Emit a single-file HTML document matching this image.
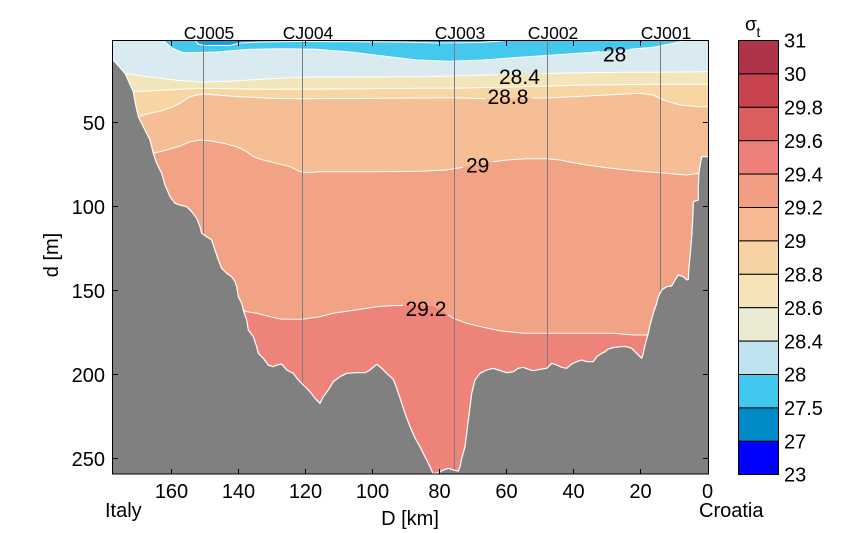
<!DOCTYPE html>
<html>
<head>
<meta charset="utf-8">
<style>
html,body{margin:0;padding:0;background:#fff;}
svg{display:block;}
text{font-family:"Liberation Sans",Arial,sans-serif;fill:#000;}
</style>
</head>
<body>
<svg width="860" height="533" viewBox="0 0 860 533" xmlns="http://www.w3.org/2000/svg">
<defs>
<clipPath id="pc"><rect x="112" y="40" width="596" height="434"/></clipPath>
</defs>
<g clip-path="url(#pc)">
<!-- base light blue -->
<rect x="112" y="40" width="596" height="434" fill="#D9EBF1"/>
<!-- cyan 27.5-28 -->
<polygon fill="#45C8EE" points="163.3,40 167,44 173.3,48.7 183.3,52.7 200,52.5 216.7,52 250,49.3 280,48.7 316.7,49.3 350,52 383.3,56 416.7,60 450,61.3 483.3,60 520,57.3 553.3,55 586.7,52.7 620,50 653.3,47.3 673.3,43.3 683.3,40.7 686,40"/>
<!-- darker strip -->
<polygon fill="#17A2DC" points="195,40 198,44 205,45.5 230,45.5 240,43 260,42 300,41.5 400,42 440,43 480,42.5 500,41 505,40"/>
<!-- pale yellow 28.4-28.6 -->
<polygon fill="#F3E5BA" points="112,70 125,73.3 150,77 175,80 200,82.3 233.3,81 266,79 300,77.3 360,77 420,76.7 453.3,76 486.7,75 520,74 553.3,73.3 586.7,72.7 620,72.3 653.3,72.3 708,71.7 708,474 112,474"/>
<!-- peach 28.6-28.8 -->
<polygon fill="#F7D6A4" points="112,92 133.3,91.7 166.7,90 200,88.3 266.7,89.3 340,89 420,88.3 453.3,88.3 520,86.7 586.7,85 653.3,84.3 708,84.3 708,474 112,474"/>
<!-- light orange 28.8-29 -->
<polygon fill="#F5BE95" points="112,118 138.3,116.7 150,113.3 161.7,110.7 171.7,107.3 180,103.3 188.3,97.3 196.7,95 203.3,94 216.7,95 240,96.7 270,98.3 300,98.7 420,98 453.3,97.7 486.7,98.7 520,98.3 553.3,97.7 586.7,96 620,94.3 640,93.3 653.3,95 663.3,100 680,105 700,106.7 708,106.7 708,474 112,474"/>
<!-- salmon 29-29.2 -->
<polygon fill="#F2A285" points="112,154 153.3,153.3 166.7,150 180,146 190,141.7 200,140 210,140.7 223.3,143.3 236.7,146.7 246.7,151.7 253.3,156.7 263.3,160 276.7,163.3 290,166.7 300,171.7 308.3,172.7 320,171.7 373.3,171.7 420,171.3 446.7,170 466.7,166.7 486.7,162.7 506.7,160 526.7,158.7 546.7,158.7 560,160 573.3,162.7 586.7,165 606.7,167.7 626.7,170 646.7,171.7 660,172.7 673.3,174 686.7,175 699.3,173.3 708,173 708,474 112,474"/>
<!-- pink-red >29.2 -->
<polygon fill="#EE837A" points="112,310 243.3,310 246.7,311.7 256.7,313.3 270,316.7 281.7,319.3 303.3,319.3 308.3,318.3 320,316.7 333.3,313.3 350,310.7 366.7,308.3 376.7,306.7 390,305.7 406.7,305.3 433.3,306 443.3,311.7 453.3,318.3 466.7,323.3 483.3,327.3 500,330.7 523.3,333.3 550,333.3 583.3,333.3 613.3,333.3 633.3,335 645,335 660,335 708,335 708,474 112,474"/>

<!-- contour lines -->
<g fill="none" stroke="#fff" stroke-width="1">
<polyline points="163.3,40 167,44 173.3,48.7 183.3,52.7 200,52.5 216.7,52 250,49.3 280,48.7 316.7,49.3 350,52 383.3,56 416.7,60 450,61.3 483.3,60 520,57.3 553.3,55 586.7,52.7 600,51.6"/>
<polyline points="630,49.3 653.3,47.3 673.3,43.3 683.3,40.7 686,40"/>
<polyline points="195,40 198,44 205,45.5 230,45.5 240,43 260,42 300,41.5 400,42 440,43 480,42.5 500,41 505,40"/>
<polyline points="112,70 125,73.3 150,77 175,80 200,82.3 233.3,81 266,79 300,77.3 360,77 420,76.7 453.3,76 486.7,75 498,74.7"/>
<polyline points="542,73.6 553.3,73.3 586.7,72.7 620,72.3 653.3,72.3 708,71.7"/>
<polyline points="112,92 133.3,91.7 166.7,90 200,88.3 266.7,89.3 340,89 420,88.3 453.3,88.3 520,86.7 586.7,85 653.3,84.3 708,84.3"/>
<polyline points="112,118 138.3,116.7 150,113.3 161.7,110.7 171.7,107.3 180,103.3 188.3,97.3 196.7,95 203.3,94 216.7,95 240,96.7 270,98.3 300,98.7 420,98 453.3,97.7 486,98.7"/>
<polyline points="532,98.1 553.3,97.7 586.7,96 620,94.3 640,93.3 653.3,95 663.3,100 680,105 700,106.7 708,106.7"/>
<polyline points="112,154 153.3,153.3 166.7,150 180,146 190,141.7 200,140 210,140.7 223.3,143.3 236.7,146.7 246.7,151.7 253.3,156.7 263.3,160 276.7,163.3 290,166.7 300,171.7 308.3,172.7 320,171.7 373.3,171.7 420,171.3 446.7,170 463,167.3"/>
<polyline points="493,161.8 506.7,160 526.7,158.7 546.7,158.7 560,160 573.3,162.7 586.7,165 606.7,167.7 626.7,170 646.7,171.7 660,172.7 673.3,174 686.7,175 699.3,173.3 708,173"/>
<polyline points="112,310 243.3,310 246.7,311.7 256.7,313.3 270,316.7 281.7,319.3 303.3,319.3 308.3,318.3 320,316.7 333.3,313.3 350,310.7 366.7,308.3 376.7,306.7 390,305.7 403,305.4"/>
<polyline points="448,314.8 453.3,318.3 466.7,323.3 483.3,327.3 500,330.7 523.3,333.3 550,333.3 583.3,333.3 613.3,333.3 633.3,335 645,335 660,335 708,335"/>
</g>

<!-- station lines -->
<g stroke="#7c7c7c" stroke-width="1">
<line x1="203.5" y1="40" x2="203.5" y2="474"/>
<line x1="302.5" y1="40" x2="302.5" y2="474"/>
<line x1="454.5" y1="40" x2="454.5" y2="474"/>
<line x1="547.5" y1="40" x2="547.5" y2="474"/>
<line x1="660.5" y1="40" x2="660.5" y2="474"/>
</g>

<!-- bathymetry -->
<polygon fill="#808080" stroke="#fff" stroke-width="1.2" stroke-linejoin="round" points="110,60 113.3,60 125,73.3 133.3,91.7 135,101.7 138.3,116.7 145,130 150,140 153.3,153.3 156.7,163.3 161.7,173.3 165,185 170,196.7 175,203.3 180,205 186.7,206.7 191.7,211.7 196.7,218.3 200,226.7 201.7,233.3 206.7,236.7 211.7,240 215,250 218.3,260 221.7,268.3 226.7,273.3 231.7,276.7 235,281.7 236.7,286.7 238.3,296.7 241.7,303.3 243.3,310 246.7,320 248.3,330 253.3,336.7 256.7,346.7 258.3,353.3 263.3,358.3 268.3,365 273.3,366.7 277,365 281.7,364 286.7,370 293.3,373.3 298.3,380 303.3,385 310,391.7 315,398.3 320,403.3 323.3,396.7 328.3,390 333.3,381.7 340,376.7 346.7,373.3 356.7,372.7 365,372.7 370,370 376.7,364.3 381.7,368.3 386.7,373.3 393.3,379.3 396.7,388.3 400,398 405,413.3 410,426.7 415,438 420,446.7 425,456.7 430,466.7 433.3,474 440,472 443.3,470 448.3,468.3 453.3,470 458.3,471 460,466.7 461.7,458.3 465,446.7 466.7,433.3 468.3,420 470,406.7 471.7,393.3 475,380 480,373.3 486.7,370 493.3,368.3 498.3,370 506.7,372.7 513.3,371.7 518.3,368.3 523.3,367.3 528.3,369.3 533.3,370.7 540,369.3 546.7,368.3 551.7,363.3 556.7,365 561.7,367.3 566.7,368.3 571.7,364 576.7,361.7 581.7,360 586.7,361.7 593.3,361.7 596.7,356.7 601.7,353.3 605,351.7 608.3,349 613.3,347.7 620,346.7 626.7,346.7 631.7,348.3 636.7,353.3 640,356.7 641.7,358.3 643.3,353.3 645,345 648.3,333.3 650,325 653.3,313.3 656.7,303.3 658.3,296.7 661.7,290 666.7,286.7 671.7,286 675,280 678.3,275 683.3,276.7 686.7,280 688.3,279.3 689,266.7 690,256.7 691.7,236.7 692.7,220 693.3,201.7 698.3,200 698.3,186.7 699,172 701.7,156.7 710,156.7 710,480 110,480"/>
</g>

<!-- contour labels -->
<g font-size="21">
<text x="603" y="61.5">28</text>
<text x="499" y="84">28.4</text>
<text x="487.5" y="104">28.8</text>
<text x="466" y="172.5">29</text>
<text x="405.5" y="316">29.2</text>
</g>

<!-- axes box -->
<rect x="112.5" y="40.5" width="596" height="433.5" fill="none" stroke="#000" stroke-width="1"/>
<!-- ticks -->
<g stroke="#000" stroke-width="1">
<line x1="171.5" y1="41" x2="171.5" y2="46"/><line x1="171.5" y1="474" x2="171.5" y2="469"/>
<line x1="238.5" y1="41" x2="238.5" y2="46"/><line x1="238.5" y1="474" x2="238.5" y2="469"/>
<line x1="305.5" y1="41" x2="305.5" y2="46"/><line x1="305.5" y1="474" x2="305.5" y2="469"/>
<line x1="372.5" y1="41" x2="372.5" y2="46"/><line x1="372.5" y1="474" x2="372.5" y2="469"/>
<line x1="439.5" y1="41" x2="439.5" y2="46"/><line x1="439.5" y1="474" x2="439.5" y2="469"/>
<line x1="506.5" y1="41" x2="506.5" y2="46"/><line x1="506.5" y1="474" x2="506.5" y2="469"/>
<line x1="573.5" y1="41" x2="573.5" y2="46"/><line x1="573.5" y1="474" x2="573.5" y2="469"/>
<line x1="640.5" y1="41" x2="640.5" y2="46"/><line x1="640.5" y1="474" x2="640.5" y2="469"/>
<line x1="113" y1="122.5" x2="118" y2="122.5"/><line x1="708" y1="122.5" x2="703" y2="122.5"/>
<line x1="113" y1="206.5" x2="118" y2="206.5"/><line x1="708" y1="206.5" x2="703" y2="206.5"/>
<line x1="113" y1="290.5" x2="118" y2="290.5"/><line x1="708" y1="290.5" x2="703" y2="290.5"/>
<line x1="113" y1="374.5" x2="118" y2="374.5"/><line x1="708" y1="374.5" x2="703" y2="374.5"/>
<line x1="113" y1="458.5" x2="118" y2="458.5"/><line x1="708" y1="458.5" x2="703" y2="458.5"/>
</g>

<!-- station labels -->
<g font-size="17.5" text-anchor="middle">
<text x="209" y="39">CJ005</text>
<text x="308" y="39">CJ004</text>
<text x="460" y="39">CJ003</text>
<text x="553" y="39">CJ002</text>
<text x="666" y="39">CJ001</text>
</g>

<!-- y tick labels -->
<g font-size="20" text-anchor="end">
<text x="105" y="129.8">50</text>
<text x="105" y="213.8">100</text>
<text x="105" y="297.8">150</text>
<text x="105" y="381.8">200</text>
<text x="105" y="465.8">250</text>
</g>
<!-- x tick labels -->
<g font-size="20" text-anchor="middle">
<text x="171.5" y="498">160</text>
<text x="238.5" y="498">140</text>
<text x="305.5" y="498">120</text>
<text x="372.5" y="498">100</text>
<text x="439.5" y="498">80</text>
<text x="506.5" y="498">60</text>
<text x="573.5" y="498">40</text>
<text x="640.5" y="498">20</text>
<text x="707.5" y="498">0</text>
</g>
<text x="105" y="517" font-size="20">Italy</text>
<text x="699" y="517" font-size="20">Croatia</text>
<text x="410" y="525" font-size="20" text-anchor="middle">D [km]</text>
<text x="0" y="0" font-size="20" text-anchor="middle" transform="translate(58,255) rotate(-90)">d [m]</text>

<!-- colorbar -->
<g stroke="#000" stroke-width="1">
<rect x="738.5" y="40.5" width="40" height="33.4" fill="#AE3549"/>
<rect x="738.5" y="73.9" width="40" height="33.4" fill="#C9434F"/>
<rect x="738.5" y="107.3" width="40" height="33.4" fill="#DB5E5E"/>
<rect x="738.5" y="140.7" width="40" height="33.4" fill="#EC8079"/>
<rect x="738.5" y="174.1" width="40" height="33.4" fill="#F19E84"/>
<rect x="738.5" y="207.5" width="40" height="33.4" fill="#F5BA94"/>
<rect x="738.5" y="240.9" width="40" height="33.4" fill="#F7D2A3"/>
<rect x="738.5" y="274.3" width="40" height="33.4" fill="#F5E3B9"/>
<rect x="738.5" y="307.7" width="40" height="33.4" fill="#EBEBD3"/>
<rect x="738.5" y="341.1" width="40" height="33.4" fill="#BEE3EE"/>
<rect x="738.5" y="374.5" width="40" height="33.4" fill="#42C7EE"/>
<rect x="738.5" y="407.9" width="40" height="33.4" fill="#008BC8"/>
<rect x="738.5" y="441.3" width="40" height="33.2" fill="#0000FF"/>
</g>
<g font-size="20">
<text x="784" y="47.7">31</text>
<text x="784" y="81.1">30</text>
<text x="784" y="114.5">29.8</text>
<text x="784" y="147.9">29.6</text>
<text x="784" y="181.3">29.4</text>
<text x="784" y="214.7">29.2</text>
<text x="784" y="248.1">29</text>
<text x="784" y="281.5">28.8</text>
<text x="784" y="314.9">28.6</text>
<text x="784" y="348.3">28.4</text>
<text x="784" y="381.7">28</text>
<text x="784" y="415.1">27.5</text>
<text x="784" y="448.5">27</text>
<text x="784" y="481.5">23</text>
</g>
<text x="745" y="30.5" font-size="19">σ</text>
<text x="756.5" y="37" font-size="14">t</text>
</svg>
</body>
</html>
